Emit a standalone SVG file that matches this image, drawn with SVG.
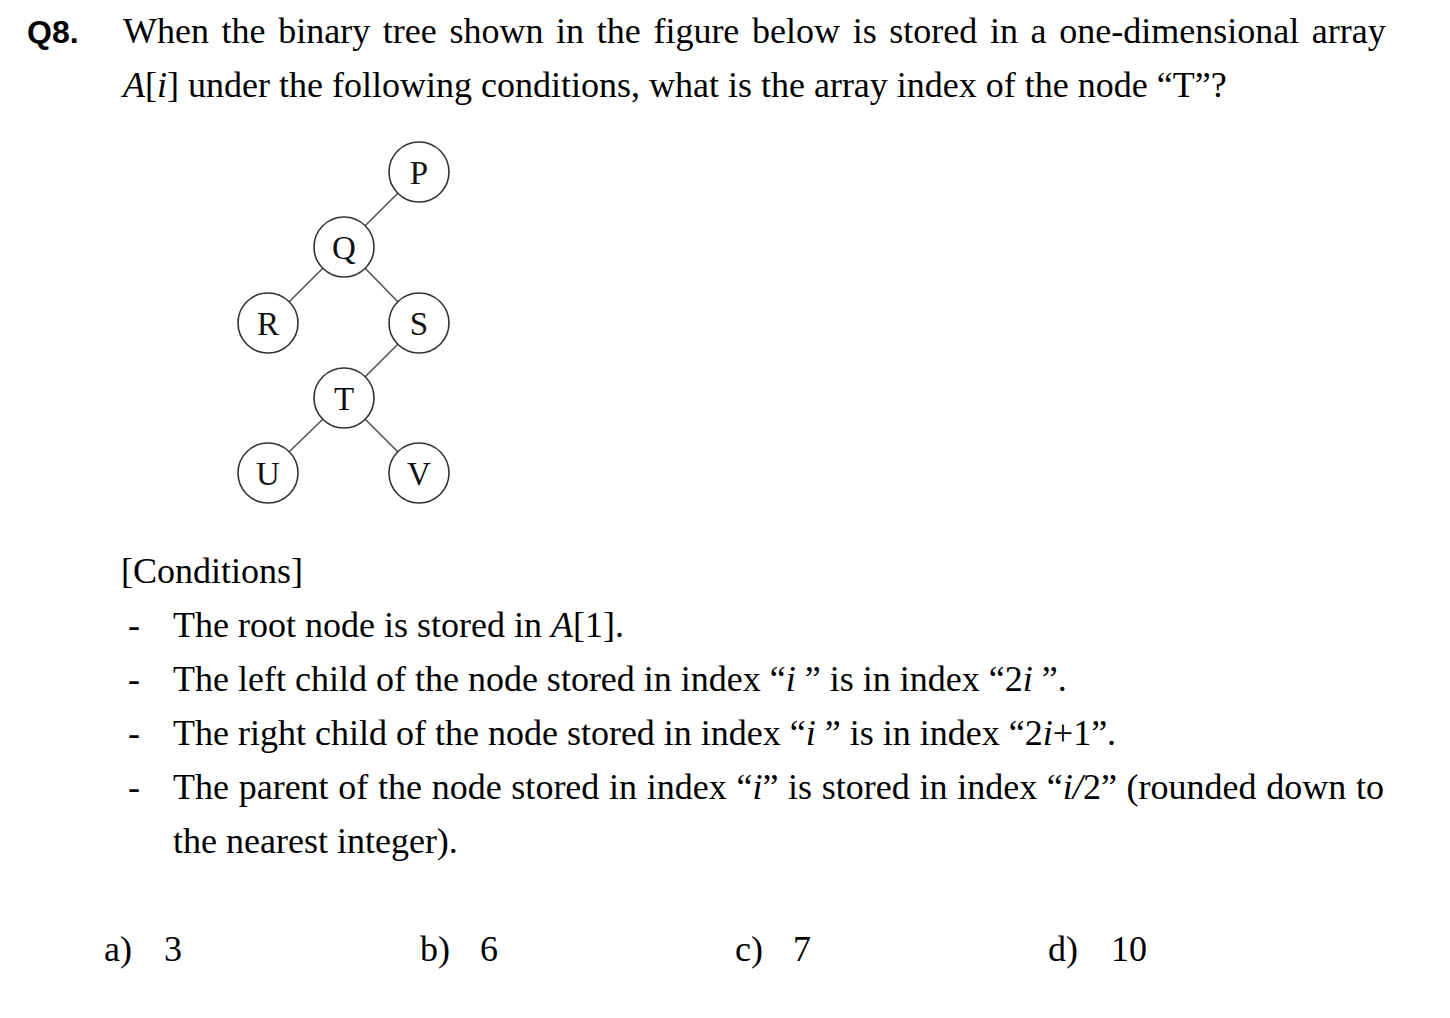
<svg xmlns="http://www.w3.org/2000/svg" width="1450" height="1018" viewBox="0 0 1450 1018">
<style>
.t{font-family:"Liberation Serif","Times New Roman",serif;font-size:36px;fill:#000}
.q{font-family:"Liberation Sans",Arial,sans-serif;font-size:32px;font-weight:bold;fill:#000}
.i{font-style:italic}
.node circle{fill:#fff;stroke:#333;stroke-width:1.6}
.node text{font-family:"Liberation Serif","Times New Roman",serif;font-size:33px;fill:#111;text-anchor:middle}
.edge{stroke:#555;stroke-width:1.6}
</style>
<rect width="1450" height="1018" fill="#fff"/>
<text class="q" x="27" y="43">Q8.</text>
<text class="t" x="123" y="43" word-spacing="3.65">When the binary tree shown in the figure below is stored in a one-dimensional array</text>
<text class="t" x="123" y="97"><tspan class="i">A</tspan>[<tspan class="i">i</tspan>] under the following conditions, what is the array index of the node “T”?</text>
<g id="connectors">
<line class="edge" x1="397.8" y1="193.2" x2="365.2" y2="225.8"/>
<line class="edge" x1="322.8" y1="268.2" x2="289.2" y2="301.8"/>
<line class="edge" x1="365.2" y1="268.2" x2="397.8" y2="301.8"/>
<line class="edge" x1="397.8" y1="344.2" x2="365.2" y2="376.8"/>
<line class="edge" x1="322.8" y1="419.2" x2="289.2" y2="451.8"/>
<line class="edge" x1="365.2" y1="419.2" x2="397.8" y2="451.8"/>
</g>
<g id="node-P" class="node"><circle cx="419" cy="172" r="30"/><text x="419" y="183.5">P</text></g>
<g id="node-Q" class="node"><circle cx="344" cy="247" r="30"/><text x="344" y="258.5">Q</text></g>
<g id="node-R" class="node"><circle cx="268" cy="323" r="30"/><text x="268" y="334.5">R</text></g>
<g id="node-S" class="node"><circle cx="419" cy="323" r="30"/><text x="419" y="334.5">S</text></g>
<g id="node-T" class="node"><circle cx="344" cy="398" r="30"/><text x="344" y="409.5">T</text></g>
<g id="node-U" class="node"><circle cx="268" cy="473" r="30"/><text x="268" y="484.5">U</text></g>
<g id="node-V" class="node"><circle cx="419" cy="473" r="30"/><text x="419" y="484.5">V</text></g>
<text class="t" x="121" y="583">[Conditions]</text>
<text class="t" x="128" y="637">-</text>
<text class="t" x="173" y="637">The root node is stored in <tspan class="i">A</tspan>[1].</text>
<text class="t" x="128" y="691">-</text>
<text class="t" x="173" y="691">The left child of the node stored in index “<tspan class="i">i</tspan> ” is in index “2<tspan class="i">i</tspan> ”.</text>
<text class="t" x="128" y="745">-</text>
<text class="t" x="173" y="745">The right child of the node stored in index “<tspan class="i">i</tspan> ” is in index “2<tspan class="i">i</tspan>+1”.</text>
<text class="t" x="128" y="799">-</text>
<text class="t" x="173" y="799" word-spacing="0.7">The parent of the node stored in index “<tspan class="i">i</tspan>” is stored in index “<tspan class="i">i/</tspan>2” (rounded down to</text>
<text class="t" x="173" y="853">the nearest integer).</text>
<text class="t" x="104" y="961">a)</text><text class="t" x="164" y="961">3</text>
<text class="t" x="420" y="961">b)</text><text class="t" x="480" y="961">6</text>
<text class="t" x="735" y="961">c)</text><text class="t" x="793" y="961">7</text>
<text class="t" x="1048" y="961">d)</text><text class="t" x="1111" y="961">10</text>
</svg>
